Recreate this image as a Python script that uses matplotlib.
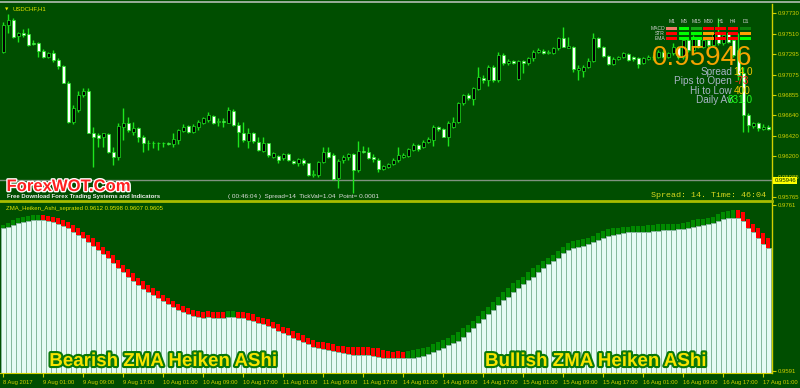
import matplotlib
matplotlib.use('Agg')
import matplotlib.pyplot as plt
import matplotlib.patheffects as pe
from matplotlib import font_manager
from matplotlib.lines import Line2D
import numpy as np

# USDCHF H1 candles
opens = [0.97320, 0.97605, 0.97658, 0.97488, 0.97523, 0.97505, 0.97409, 0.97409, 0.97327, 0.97260,
         0.97302, 0.97231, 0.97167, 0.96982, 0.96573, 0.96697, 0.96857, 0.96904, 0.96448, 0.96430,
         0.96412, 0.96441, 0.96245, 0.96192, 0.96519, 0.96562, 0.96466, 0.96501, 0.96412, 0.96348,
         0.96341, 0.96348, 0.96341, 0.96345, 0.96334, 0.96377, 0.96477, 0.96526, 0.96466, 0.96519,
         0.96555, 0.96590, 0.96633, 0.96573, 0.96583, 0.96562, 0.96690, 0.96537, 0.96455, 0.96370,
         0.96455, 0.96359, 0.96263, 0.96341, 0.96199, 0.96206, 0.96181, 0.96227, 0.96153, 0.96128,
         0.96163, 0.96128, 0.96003, 0.96003, 0.96145, 0.96252, 0.96217, 0.95967, 0.96163, 0.96199,
         0.96227, 0.96056, 0.96263, 0.96252, 0.96192, 0.96163, 0.96063, 0.96092, 0.96120, 0.96163,
         0.96199, 0.96206, 0.96270, 0.96323, 0.96298, 0.96359, 0.96377, 0.96512, 0.96491, 0.96412,
         0.96519, 0.96573, 0.96768, 0.96857, 0.96811, 0.96918, 0.97036, 0.97018, 0.97153, 0.97018,
         0.97285, 0.97196, 0.97221, 0.97025, 0.97221, 0.97203, 0.97249, 0.97320, 0.97331, 0.97310,
         0.97302, 0.97356, 0.97463, 0.97363, 0.97374, 0.97124, 0.97117, 0.97160, 0.97224, 0.97463,
         0.97374, 0.97274, 0.97188, 0.97238, 0.97260, 0.97295, 0.97260, 0.97249, 0.97196, 0.97238,
         0.97267, 0.97260, 0.97320, 0.97267, 0.97302, 0.97374, 0.97260, 0.97445, 0.97338, 0.97463,
         0.97374, 0.97445, 0.97391, 0.97516, 0.97409, 0.97516, 0.97445, 0.97338, 0.97089, 0.96644,
         0.96526, 0.96555, 0.96491, 0.96519]
highs = [0.97641, 0.97722, 0.97676, 0.97534, 0.97559, 0.97569, 0.97445, 0.97427, 0.97345, 0.97320,
         0.97338, 0.97249, 0.97178, 0.97007, 0.96751, 0.96904, 0.96929, 0.96929, 0.96512, 0.96448,
         0.96455, 0.96455, 0.96306, 0.96555, 0.96715, 0.96626, 0.96573, 0.96519, 0.96430, 0.96377,
         0.96370, 0.96359, 0.96359, 0.96359, 0.96448, 0.96491, 0.96548, 0.96537, 0.96548, 0.96590,
         0.96626, 0.96679, 0.96644, 0.96608, 0.96608, 0.96733, 0.96704, 0.96573, 0.96573, 0.96501,
         0.96466, 0.96412, 0.96405, 0.96348, 0.96252, 0.96217, 0.96242, 0.96242, 0.96163, 0.96181,
         0.96181, 0.96135, 0.96056, 0.96156, 0.96306, 0.96306, 0.96234, 0.96170, 0.96217, 0.96242,
         0.96242, 0.96370, 0.96313, 0.96299, 0.96227, 0.96181, 0.96110, 0.96135, 0.96181, 0.96306,
         0.96242, 0.96288, 0.96341, 0.96334, 0.96377, 0.96405, 0.96537, 0.96526, 0.96501, 0.96583,
         0.96626, 0.96786, 0.96868, 0.96875, 0.96939, 0.97160, 0.97071, 0.97178, 0.97178, 0.97320,
         0.97302, 0.97238, 0.97231, 0.97231, 0.97231, 0.97260, 0.97338, 0.97356, 0.97345, 0.97338,
         0.97374, 0.97480, 0.97587, 0.97480, 0.97381, 0.97178, 0.97178, 0.97249, 0.97516, 0.97480,
         0.97381, 0.97285, 0.97260, 0.97274, 0.97320, 0.97310, 0.97274, 0.97260, 0.97267, 0.97285,
         0.97285, 0.97338, 0.97338, 0.97320, 0.97409, 0.97381, 0.97480, 0.97463, 0.97498, 0.97480,
         0.97480, 0.97463, 0.97534, 0.97676, 0.97534, 0.97534, 0.97463, 0.97516, 0.97160, 0.96662,
         0.96573, 0.96573, 0.96548, 0.96537]
lows = [0.97310, 0.97516, 0.97463, 0.97427, 0.97480, 0.97381, 0.97391, 0.97267, 0.97249, 0.97249,
        0.97213, 0.97135, 0.96982, 0.96562, 0.96548, 0.96679, 0.96840, 0.96448, 0.96092, 0.96306,
        0.96306, 0.96234, 0.96110, 0.96163, 0.96377, 0.96466, 0.96430, 0.96359, 0.96252, 0.96270,
        0.96288, 0.96270, 0.96306, 0.96323, 0.96306, 0.96334, 0.96466, 0.96448, 0.96448, 0.96484,
        0.96548, 0.96573, 0.96548, 0.96526, 0.96519, 0.96555, 0.96526, 0.96306, 0.96359, 0.96288,
        0.96348, 0.96263, 0.96252, 0.96199, 0.96181, 0.96128, 0.96163, 0.96156, 0.96120, 0.96099,
        0.96110, 0.95992, 0.95985, 0.95985, 0.96128, 0.96181, 0.95950, 0.95861, 0.96128, 0.96163,
        0.95814, 0.96039, 0.96234, 0.96170, 0.96145, 0.96039, 0.96056, 0.96074, 0.96110, 0.96145,
        0.96181, 0.96192, 0.96263, 0.96263, 0.96288, 0.96348, 0.96313, 0.96477, 0.96405, 0.96313,
        0.96501, 0.96562, 0.96751, 0.96804, 0.96751, 0.96911, 0.96982, 0.96954, 0.97000, 0.97000,
        0.97178, 0.97178, 0.97188, 0.97018, 0.97089, 0.97178, 0.97224, 0.97302, 0.97295, 0.97295,
        0.97295, 0.97338, 0.97366, 0.97356, 0.97107, 0.97018, 0.97053, 0.97142, 0.97213, 0.97356,
        0.97260, 0.97178, 0.97174, 0.97231, 0.97249, 0.97224, 0.97224, 0.97142, 0.97188, 0.97231,
        0.97231, 0.97249, 0.97249, 0.97249, 0.97285, 0.97238, 0.97238, 0.97320, 0.97310, 0.97356,
        0.97356, 0.97374, 0.97374, 0.97391, 0.97391, 0.97409, 0.97267, 0.97018, 0.96466, 0.96466,
        0.96501, 0.96477, 0.96484, 0.96484]
closes = [0.97605, 0.97658, 0.97480, 0.97523, 0.97502, 0.97391, 0.97399, 0.97331, 0.97267, 0.97310,
          0.97231, 0.97171, 0.96989, 0.96573, 0.96715, 0.96857, 0.96904, 0.96455, 0.96405, 0.96395,
          0.96448, 0.96245, 0.96192, 0.96530, 0.96562, 0.96484, 0.96501, 0.96405, 0.96348, 0.96341,
          0.96348, 0.96341, 0.96345, 0.96334, 0.96384, 0.96484, 0.96519, 0.96466, 0.96526, 0.96573,
          0.96608, 0.96644, 0.96562, 0.96583, 0.96573, 0.96697, 0.96537, 0.96466, 0.96377, 0.96455,
          0.96370, 0.96270, 0.96341, 0.96217, 0.96234, 0.96163, 0.96227, 0.96163, 0.96128, 0.96170,
          0.96128, 0.96003, 0.96014, 0.96145, 0.96252, 0.96199, 0.95957, 0.96156, 0.96199, 0.96227,
          0.96056, 0.96263, 0.96252, 0.96181, 0.96170, 0.96063, 0.96099, 0.96120, 0.96163, 0.96217,
          0.96217, 0.96277, 0.96323, 0.96277, 0.96359, 0.96384, 0.96519, 0.96491, 0.96412, 0.96555,
          0.96573, 0.96776, 0.96857, 0.96822, 0.96929, 0.97046, 0.97018, 0.97160, 0.97018, 0.97285,
          0.97196, 0.97221, 0.97203, 0.97221, 0.97196, 0.97249, 0.97320, 0.97338, 0.97310, 0.97320,
          0.97356, 0.97463, 0.97374, 0.97381, 0.97132, 0.97142, 0.97160, 0.97224, 0.97463, 0.97374,
          0.97274, 0.97188, 0.97238, 0.97260, 0.97302, 0.97231, 0.97238, 0.97188, 0.97249, 0.97267,
          0.97260, 0.97320, 0.97267, 0.97302, 0.97374, 0.97260, 0.97445, 0.97338, 0.97463, 0.97374,
          0.97445, 0.97391, 0.97516, 0.97409, 0.97498, 0.97427, 0.97285, 0.97071, 0.96644, 0.96537,
          0.96555, 0.96501, 0.96519, 0.96491]

# ZMA Heiken Ashi separated: upper / lower edge of the coloured body
ha_top = [0.97405, 0.97423, 0.97456, 0.97480, 0.97490, 0.97500, 0.97508, 0.97508, 0.97508, 0.97500,
          0.97490, 0.97474, 0.97456, 0.97433, 0.97405, 0.97371, 0.97337, 0.97303, 0.97269, 0.97228,
          0.97183, 0.97139, 0.97098, 0.97047, 0.96996, 0.96955, 0.96911, 0.96866, 0.96832, 0.96791,
          0.96757, 0.96729, 0.96688, 0.96658, 0.96627, 0.96596, 0.96576, 0.96555, 0.96535, 0.96525,
          0.96517, 0.96525, 0.96517, 0.96511, 0.96511, 0.96525, 0.96525, 0.96517, 0.96511, 0.96501,
          0.96491, 0.96466, 0.96456, 0.96443, 0.96415, 0.96388, 0.96364, 0.96347, 0.96320, 0.96296,
          0.96279, 0.96251, 0.96228, 0.96210, 0.96204, 0.96194, 0.96184, 0.96169, 0.96169, 0.96159,
          0.96159, 0.96159, 0.96159, 0.96159, 0.96149, 0.96143, 0.96125, 0.96115, 0.96108, 0.96115,
          0.96108, 0.96115, 0.96125, 0.96135, 0.96143, 0.96159, 0.96184, 0.96204, 0.96228, 0.96251,
          0.96279, 0.96313, 0.96354, 0.96381, 0.96422, 0.96476, 0.96525, 0.96569, 0.96620, 0.96671,
          0.96722, 0.96757, 0.96808, 0.96842, 0.96876, 0.96921, 0.96962, 0.96996, 0.97037, 0.97070,
          0.97098, 0.97139, 0.97183, 0.97218, 0.97241, 0.97252, 0.97262, 0.97275, 0.97296, 0.97320,
          0.97344, 0.97364, 0.97371, 0.97378, 0.97388, 0.97388, 0.97398, 0.97398, 0.97398, 0.97405,
          0.97405, 0.97412, 0.97412, 0.97412, 0.97412, 0.97412, 0.97423, 0.97439, 0.97456, 0.97467,
          0.97467, 0.97474, 0.97490, 0.97515, 0.97535, 0.97549, 0.97559, 0.97559, 0.97535, 0.97467,
          0.97412, 0.97371, 0.97320, 0.97269]
ha_bottom = [0.97371, 0.97388, 0.97405, 0.97423, 0.97439, 0.97449, 0.97456, 0.97456, 0.97456, 0.97446,
             0.97433, 0.97419, 0.97398, 0.97371, 0.97337, 0.97303, 0.97269, 0.97234, 0.97193, 0.97149,
             0.97105, 0.97064, 0.97013, 0.96968, 0.96921, 0.96876, 0.96832, 0.96791, 0.96750, 0.96716,
             0.96688, 0.96658, 0.96627, 0.96596, 0.96566, 0.96535, 0.96514, 0.96494, 0.96473, 0.96463,
             0.96456, 0.96463, 0.96456, 0.96456, 0.96456, 0.96466, 0.96466, 0.96456, 0.96450, 0.96435,
             0.96422, 0.96399, 0.96388, 0.96374, 0.96347, 0.96320, 0.96296, 0.96279, 0.96251, 0.96228,
             0.96210, 0.96184, 0.96159, 0.96143, 0.96135, 0.96125, 0.96115, 0.96102, 0.96091, 0.96081,
             0.96074, 0.96074, 0.96074, 0.96074, 0.96067, 0.96057, 0.96046, 0.96040, 0.96040, 0.96040,
             0.96040, 0.96040, 0.96046, 0.96057, 0.96067, 0.96081, 0.96102, 0.96125, 0.96149, 0.96176,
             0.96194, 0.96217, 0.96261, 0.96306, 0.96347, 0.96399, 0.96443, 0.96491, 0.96535, 0.96586,
             0.96637, 0.96671, 0.96722, 0.96757, 0.96798, 0.96842, 0.96876, 0.96921, 0.96968, 0.97003,
             0.97037, 0.97070, 0.97115, 0.97149, 0.97173, 0.97183, 0.97193, 0.97208, 0.97228, 0.97252,
             0.97275, 0.97296, 0.97303, 0.97310, 0.97320, 0.97330, 0.97330, 0.97330, 0.97337, 0.97337,
             0.97344, 0.97344, 0.97354, 0.97354, 0.97354, 0.97364, 0.97364, 0.97378, 0.97388, 0.97398,
             0.97405, 0.97412, 0.97423, 0.97446, 0.97467, 0.97474, 0.97480, 0.97474, 0.97446, 0.97378,
             0.97330, 0.97275, 0.97208, 0.97166]
ha_trend = ['up'] * 8 + ['down'] * 37 + ['up'] * 2 + ['down'] * 34 + ['up'] * 66 + ['down'] * 7

price_ticks = [0.97730, 0.97510, 0.97295, 0.97075, 0.96855, 0.96640, 0.96420, 0.96200, 0.95985, 0.95765]
zma_ticks = [0.9761, 0.9591]
time_labels = ['8 Aug 2017', '9 Aug 01:00', '9 Aug 09:00', '9 Aug 17:00', '10 Aug 01:00',
               '10 Aug 09:00', '10 Aug 17:00', '11 Aug 01:00', '11 Aug 09:00', '11 Aug 17:00',
               '14 Aug 01:00', '14 Aug 09:00', '14 Aug 17:00', '15 Aug 01:00', '15 Aug 09:00',
               '15 Aug 17:00', '16 Aug 01:00', '16 Aug 09:00', '16 Aug 17:00', '17 Aug 01:00']
bid = 0.95946

timeframes = ['M1', 'M5', 'M15', 'M30', 'H1', 'H4', 'D1']
signal_names = ['MACD', 'STR', 'EMA']
signal_colors = [['#f07a68', '#00ff00', '#14a814', '#ff0000', '#ff0000', '#ff0000', '#0c800c'],
                 ['#ff0000', '#00ff00', '#00ff00', '#ffa000', '#ff0000', '#ff0000', '#ffa000'],
                 ['#ff0000', '#00ff00', '#00ff00', '#ff8c00', '#ff0000', '#ff0000', '#00ff00']]

info_labels = ['Spread', 'Pips to Open', 'Hi to Low', 'Daily Av']
info_values = ['14.0', '-73', '400', '831.0']
info_colors = ['#f0c800', '#ff3010', '#f0c800', '#22ff22']

BG = '#004e00'
LIME = '#1ee61e'
AXIS_YEL = '#d0d000'
W, H = 800, 388


def fx(px):
    return px / W


def fy(py):
    return 1 - py / H


fig = plt.figure(figsize=(8, 3.88), dpi=100, facecolor=BG)

ax1 = fig.add_axes([0, fy(199), 772 / W, 195 / H], facecolor=BG)
ax2 = fig.add_axes([0, fy(373), 772 / W, 172 / H], facecolor=BG)

x = np.arange(len(closes))
o = np.array(opens)
c = np.array(closes)

# candles
ax1.axhline(bid, color='#7f927f', lw=1, zorder=1)
ax1.vlines(x, lows, highs, color=LIME, lw=1, zorder=2)
up = c >= o
body_h = np.maximum(np.abs(c - o), 0.00003)
ax1.bar(x, body_h, bottom=np.minimum(o, c), width=0.62,
        color=np.where(up, 'black', 'white'), edgecolor=LIME, linewidth=0.5, zorder=3)
ax1.set_xlim(-0.66, 153.74)
ax1.set_ylim(0.95746, 0.97829)

# ZMA Heiken Ashi histogram
top = np.array(ha_top)
bot = np.array(ha_bottom)
ax2.set_xlim(-0.66, 153.74)
ax2.set_ylim(0.95890, 0.97651)
base = ax2.get_ylim()[0]
ax2.bar(x, bot - base, bottom=base, width=1.0, color='#e6fbf4', edgecolor='#86b89c', linewidth=0.7, zorder=2)
ax2.bar(x, top - bot, bottom=bot, width=0.86,
        color=['#008a00' if t == 'up' else '#ff0000' for t in ha_trend], linewidth=0, zorder=3)

# axes styling
for ax in (ax1, ax2):
    for s in ('left', 'top', 'bottom'):
        ax.spines[s].set_visible(False)
    ax.spines['right'].set_color(AXIS_YEL)
    ax.spines['right'].set_linewidth(1)
    ax.yaxis.tick_right()
    ax.tick_params(axis='y', colors=AXIS_YEL, labelsize=4.3, length=3, width=0.8, pad=1.5)
    for lab in ax.get_yticklabels():
        lab.set_family('Liberation Sans')

ax1.set_xticks([])
ax1.set_yticks(price_ticks)
ax1.set_yticklabels([f'{t:.5f}' for t in price_ticks], family='Liberation Sans')

ax2.spines['bottom'].set_visible(True)
ax2.spines['bottom'].set_color(AXIS_YEL)
ax2.spines['top'].set_visible(True)
ax2.spines['top'].set_color('#a8bc00')
ax2.spines['top'].set_linewidth(2)
ax2.set_yticks(zma_ticks)
ax2.set_yticklabels([f'{t:.4f}' for t in zma_ticks], family='Liberation Sans')
ax2.set_xticks(np.arange(0, len(closes), 8))
ax2.set_xticklabels(time_labels, family='Liberation Sans', ha='left')
ax2.tick_params(axis='x', colors=AXIS_YEL, labelsize=4.2, length=3, width=0.8, pad=2)

# current price marker on the scale
ax1.text(1.003, bid, f'{bid:.5f}', transform=ax1.get_yaxis_transform(), fontsize=4.3,
         family='Liberation Sans', color='#003000', va='center', ha='left', clip_on=False, zorder=6,
         bbox=dict(boxstyle='square,pad=0.2', fc='#ffff00', ec='none'))

# frame line at the top
fig.add_artist(Line2D([0, 1], [fy(2), fy(2)], color='#b4beb4', lw=1.2, transform=fig.transFigure))

# header texts
fig.text(fx(4.5), fy(10.5), '\u25bc', fontsize=3.2, color='#e8e800', va='baseline')
fig.text(fx(12.7), fy(10.7), 'USDCHF,H1', fontsize=4.3, family='Liberation Sans', color='#e8e800', va='baseline')
fig.text(fx(6), fy(209.6), 'ZMA_Heiken_Ashi_seprated 0.9612 0.9598 0.9607 0.9605', fontsize=4.3,
         family='Liberation Sans', color='#e6e600', va='baseline')

fig.text(fx(6.5), fy(191), 'ForexWOT.Com', fontsize=12, fontweight='bold', family='Liberation Sans',
         color='#ff2020', va='baseline', path_effects=[pe.withStroke(linewidth=2, foreground='white')])
fig.text(fx(7.3), fy(197.6), 'Free Download Forex Trading Systems and Indicators', fontsize=4.3,
         fontweight='bold', family='Liberation Sans', color='#eeeeee', va='baseline')
fig.text(fx(228.3), fy(197.6), '( 00:46:04 )  Spread=14  TickVal=1.04  Point= 0.0001', fontsize=4.6,
         family='Liberation Sans', color='#dedede', va='baseline')
fig.text(fx(650.7), fy(197.3), 'Spread: 14. Time: 46:04', fontsize=6, family='Liberation Mono',
         color='#d8d820', va='baseline')

# signal table
tab = fig.add_axes([fx(665.5), fy(41.2), 86 / W, 15 / H])
tab.set_axis_off()
tab.set_xlim(0, len(timeframes))
tab.set_ylim(len(signal_names), 0)
for r, row in enumerate(signal_colors):
    tab.barh(np.full(len(row), r + 0.5), 0.88, left=np.arange(len(row)) + 0.06, height=0.56, color=row)
for i, tf in enumerate(timeframes):
    tab.text(i + 0.5, -0.55, tf, ha='center', va='baseline', fontsize=3.6, color='#d0d0d0',
             family='Liberation Sans')
for r, name in enumerate(signal_names):
    tab.text(-0.05, r + 0.5, name, ha='right', va='center', fontsize=3.6, color='#d0d0d0',
             family='Liberation Sans')

# big price and info block
fig.text(fx(752), fy(65), f'{bid:.5f}', fontsize=20, family='Liberation Sans', color='#f5a300',
         ha='right', va='baseline')
info_base = [75, 84, 93.7, 102.7]
info_vx = [733.5, 735, 733.5, 728]
for lab, val, col, yb, vx in zip(info_labels, info_values, info_colors, info_base, info_vx):
    fig.text(fx(732), fy(yb), lab, fontsize=7.2, family='Liberation Sans', color='#a8b4c6',
             ha='right', va='baseline')
    fig.text(fx(vx), fy(yb), val, fontsize=7.2, family='Liberation Sans', color=col,
             ha='left', va='baseline')

# banners on the indicator window
names = {f.name for f in font_manager.fontManager.ttflist}
if 'Liberation Sans Narrow' in names:
    banner_font, banner_size = 'Liberation Sans Narrow', 16
else:
    banner_font, banner_size = 'Liberation Sans', 13.5
banner_fx = [pe.withStroke(linewidth=3, foreground='#0a780a')]
fig.text(fx(49.3), fy(366), 'Bearish ZMA Heiken AShi', fontsize=banner_size, fontweight='bold',
         family=banner_font, color='#f7e400', va='baseline', path_effects=banner_fx)
fig.text(fx(485), fy(366), 'Bullish ZMA Heiken AShi', fontsize=banner_size, fontweight='bold',
         family=banner_font, color='#f7e400', va='baseline', path_effects=banner_fx)

fig.savefig('out.png', dpi=100, facecolor=BG)
